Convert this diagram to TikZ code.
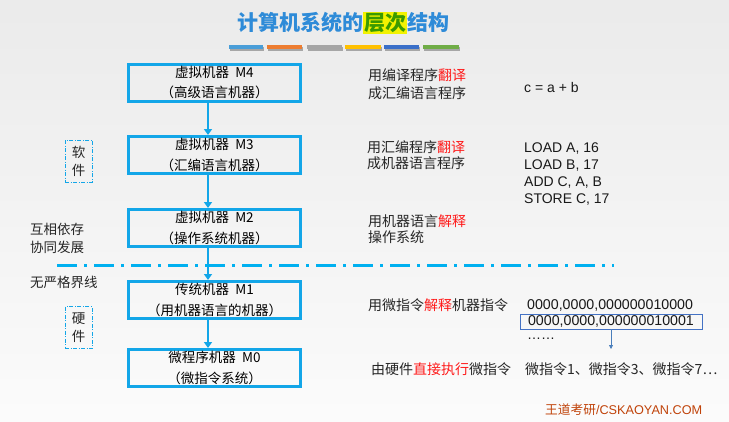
\documentclass[tikz,border=0pt]{standalone}
\usepackage{fontspec}
\setmainfont{Liberation Sans}
\newfontfamily\cjk{Noto Sans CJK SC}
\usetikzlibrary{arrows.meta}
\definecolor{boxblue}{HTML}{13A6E8}
\definecolor{lineblue}{HTML}{00B0F0}
\definecolor{titleblue}{HTML}{2E8BD8}
\definecolor{hlyellow}{HTML}{F2F200}
\definecolor{hlgreen}{HTML}{3A9A00}
\definecolor{markred}{HTML}{FF1A1A}
\definecolor{wmred}{HTML}{C0430A}
\definecolor{arrowsteel}{HTML}{4A7EBB}
\definecolor{binbox}{HTML}{4472C4}
\definecolor{barA}{HTML}{4A9ED8}
\definecolor{barB}{HTML}{ED7D31}
\definecolor{barC}{HTML}{A5A5A5}
\definecolor{barD}{HTML}{FFC000}
\definecolor{barE}{HTML}{3A6FC8}
\definecolor{barF}{HTML}{70AD47}
\begin{document}
\begin{tikzpicture}[x=1pt,y=-1pt,
  mbox/.style={draw=boxblue, line width=3pt, minimum width=172pt, minimum height=37pt,
    inner sep=0pt, align=center, font=\cjk\fontsize{13.5}{20.5}\selectfont, text=black},
  conn/.style={draw=boxblue, line width=2pt, -{Triangle[length=6pt,width=8pt]}},
  sidebox/.style={draw=boxblue, dash pattern=on 4pt off 1.5pt on 1pt off 1.5pt, line width=0.8pt,
    minimum width=27pt, minimum height=42pt, align=center, inner sep=0pt,
    font=\cjk\fontsize{13.5}{18}\selectfont, text=black!85},
  cn/.style={anchor=west, align=left, inner sep=0pt, text=black!85},
  en/.style={anchor=west, align=left, inner sep=0pt, text=black!90}
]
\useasboundingbox (0,0) rectangle (729,421);
\shade[top color=black!8, bottom color=black!1.5] (0,0) rectangle (729,421);

% title
\node[inner sep=0pt, text=titleblue, font=\cjk\bfseries\fontsize{21}{21}\selectfont] (title) at (343,23)
  {计算机系统的{\setlength\fboxsep{1pt}\colorbox{hlyellow}{\color{hlgreen}层次}}结构};

% color bars
\foreach \xa/\xb/\c in {229/263/barA, 267/302/barB, 307/342/barC, 345/381/barD, 384/419/barE, 423/459/barF}{
  \fill[black!35] (\xa+1,46.5) rectangle (\xb+1,50.5);
  \fill[\c] (\xa,45) rectangle (\xb,49);
}

% machine boxes
\node[mbox] (m4) at (214.5,82.5) {虚拟机器\ \ M4\\（高级语言机器）};
\node[mbox] (m3) at (214.5,155) {虚拟机器\ \ M3\\（汇编语言机器）};
\node[mbox] (m2) at (214.5,228) {虚拟机器\ \ M2\\（操作系统机器）};
\node[mbox] (m1) at (214.5,300) {传统机器\ \ M1\\（用机器语言的机器）};
\node[mbox] (m0) at (214.5,368) {微程序机器\ \ M0\\（微指令系统）};

\coordinate (ax) at (208,0);
\draw[conn] (m4.south -| ax) -- (m3.north -| ax);
\draw[conn] (m3.south -| ax) -- (m2.north -| ax);
\draw[conn] (m2.south -| ax) -- (m1.north -| ax);
\draw[conn] (m1.south -| ax) -- (m0.north -| ax);

% dash-dot boundary
\coordinate (dl) at (57,265);
\coordinate (dr) at (614,265);
\draw[lineblue, line width=3pt, dash pattern=on 20pt off 7pt on 3pt off 7pt] (dl) -- (dr);

% left labels
\node[sidebox] (soft) at (78.5,161) {软\\件};
\node[sidebox] (hard) at (78.5,327.5) {硬\\件};
\node[cn, font=\cjk\fontsize{13.5}{18}\selectfont] (dep) at (30,238) {互相依存\\协同发展};
\node[cn, font=\cjk\fontsize{13.5}{18}\selectfont] (nob) at (30,282) {无严格界线};

% right descriptions
\node[cn, font=\cjk\fontsize{14}{18}\selectfont] (d4) at (368,84)
  {用编译程序{\color{markred}翻译}\\成汇编语言程序};
\node[cn, font=\cjk\fontsize{14}{16.5}\selectfont] (d3) at (367,155)
  {用汇编程序{\color{markred}翻译}\\成机器语言程序};
\node[cn, font=\cjk\fontsize{14}{16.5}\selectfont] (d2) at (368,229)
  {用机器语言{\color{markred}解释}\\操作系统};
\node[cn, font=\cjk\fontsize{14}{17}\selectfont] (d1) at (368,305)
  {用微指令{\color{markred}解释}机器指令};
\node[cn, font=\cjk\fontsize{14}{17}\selectfont] (d0) at (371,369)
  {由硬件{\color{markred}直接执行}微指令};

% examples
\node[en, font=\fontsize{14}{17}\selectfont] (ex4) at (524,87) {c = a + b};
\node[en, font=\fontsize{14}{17}\selectfont] (ex3) at (524,174.5)
  {LOAD A, 16\\LOAD B, 17\\ADD C, A, B\\STORE C, 17};
\node[en, font=\fontsize{14.2}{17}\selectfont] (bin1) at (527,305) {0000,0000,000000010000};
\node[draw=binbox, line width=0.8pt, inner xsep=0pt, inner ysep=0pt, minimum width=182pt,
  minimum height=15pt, text=black!90, font=\fontsize{14.2}{17}\selectfont] (bin2) at (611,321.5)
  {0000,0000,000000010001};
\node[en, font=\fontsize{14}{17}\selectfont] (dots) at (527,339) {……};
\coordinate (binend) at (611,349);
\draw[arrowsteel, line width=0.8pt, -{Triangle[length=4pt,width=4pt]}] (bin2.south -| binend) -- (binend);
\node[cn, font=\cjk\fontsize{14}{17}\selectfont] (ex0) at (525,369) {微指令1、微指令3、微指令7⋯};

% watermark
\node[en, text=wmred, font=\fontsize{12.7}{14}\selectfont] (wm) at (545,410) {{\cjk 王道考研}/CSKAOYAN.COM};
\end{tikzpicture}
\end{document}
